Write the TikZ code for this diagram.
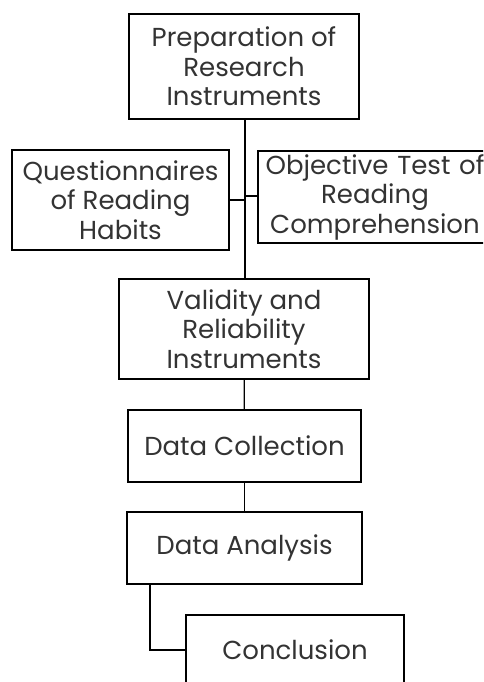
\documentclass[tikz,border=0pt]{standalone}
\usepackage{fontspec}
\setmainfont{Poppins}
\usepackage{tikz}
\usetikzlibrary{positioning,calc}

\begin{document}
\begin{tikzpicture}[x=1pt,y=-1pt,
	stage/.style={draw, line width=1.2pt, align=center, inner sep=1pt, text=black!80, font=\fontsize{26}{29.5}\selectfont},
	link/.style={line width=1.2pt}]
	\useasboundingbox (0,0) rectangle (483,682);
	\clip (0,0) rectangle (483,682);
	\node [stage, minimum width=230pt, minimum height=105pt] (prep) at (244,66.5) {Preparation of\\Research\\Instruments};
	\node [stage, minimum width=217pt, minimum height=100pt] (quest) at (120.5,200) {Questionnaires\\of Reading\\Habits};
	\node [stage, minimum width=234pt, minimum height=92pt, text width=220pt] (test) at (375,197) {Objective Test of\\Reading\\Comprehension};
	\node [stage, minimum width=250pt, minimum height=100pt] (valid) at (244,329) {Validity and\\Reliability\\Instruments};
	\node [stage, minimum width=233pt, minimum height=72pt] (collect) at (244.5,446) {Data Collection};
	\node [stage, minimum width=235pt, minimum height=72pt] (analysis) at (244.5,548) {Data Analysis};
	\node [stage, minimum width=218pt, minimum height=70pt] (concl) at (295,650) {Conclusion};
	% trunk and branches
	\coordinate (jq) at (245,200);
	\coordinate (jt) at (245,196);
	\draw [link] (prep.south -| 245,0) -- (valid.north -| 245,0);
	\draw [link] (quest.east |- jq) -- (jq);
	\draw [link] (test.west |- jt) -- (jt);
	\draw [link] (valid) -- (collect);
	\draw [link] (collect) -- (analysis);
	\draw [link] (analysis.south -| 150,0) |- (concl.west);
\end{tikzpicture}
\end{document}
